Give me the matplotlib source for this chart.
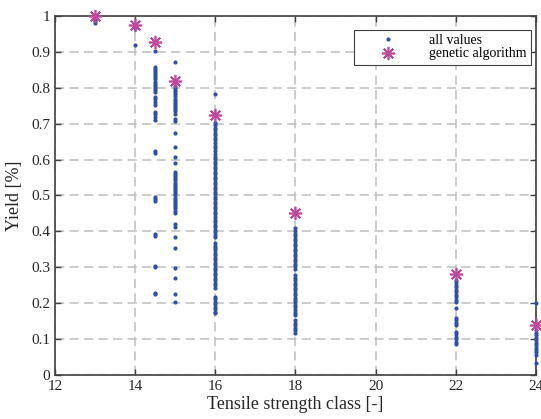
import matplotlib
matplotlib.use("Agg")
import matplotlib.pyplot as plt

# ---- data ----
x13 = [0.995, 0.99, 0.985, 0.98]
x14 = [0.97, 0.965, 0.919]
x14_5 = [0.903, 0.859, 0.853, 0.847, 0.841, 0.835, 0.829, 0.823, 0.817, 0.811,
         0.805, 0.799, 0.793, 0.789, 0.775, 0.768, 0.761, 0.752, 0.733, 0.726,
         0.718, 0.71, 0.624, 0.619, 0.496, 0.49, 0.484, 0.392, 0.388, 0.304,
         0.3, 0.229, 0.226]
x15 = [0.873, 0.806, 0.8, 0.794, 0.788, 0.782, 0.776, 0.77, 0.764, 0.758,
       0.752, 0.746, 0.74, 0.734, 0.728, 0.712, 0.706, 0.674, 0.636, 0.608,
       0.591, 0.566, 0.56, 0.554, 0.548, 0.542, 0.536, 0.53, 0.524, 0.518,
       0.512, 0.506, 0.5, 0.494, 0.488, 0.482, 0.476, 0.47, 0.464, 0.458,
       0.452, 0.42, 0.413, 0.385, 0.355, 0.297, 0.271, 0.225, 0.202]
x16 = [0.783, 0.703, 0.696, 0.689, 0.682, 0.675, 0.668, 0.661, 0.655, 0.645,
       0.638, 0.631, 0.625, 0.615, 0.608, 0.601, 0.594, 0.587, 0.580, 0.573,
       0.566, 0.559, 0.552, 0.545, 0.538, 0.531, 0.524, 0.517, 0.510, 0.503,
       0.496, 0.489, 0.482, 0.475, 0.468, 0.461, 0.454, 0.447, 0.440, 0.433,
       0.426, 0.419, 0.412, 0.405, 0.398, 0.391, 0.384, 0.367, 0.360, 0.355,
       0.348, 0.341, 0.334, 0.327, 0.320, 0.313, 0.306, 0.299, 0.292, 0.285,
       0.278, 0.271, 0.264, 0.257, 0.250, 0.243, 0.218, 0.211, 0.204, 0.197,
       0.190, 0.183, 0.176, 0.172]
x18 = [0.408, 0.401, 0.394, 0.387, 0.380, 0.373, 0.366, 0.359, 0.352, 0.345,
       0.338, 0.331, 0.324, 0.317, 0.310, 0.303, 0.296, 0.278, 0.271, 0.264,
       0.257, 0.250, 0.243, 0.236, 0.229, 0.222, 0.215, 0.209, 0.202, 0.195,
       0.188, 0.181, 0.174, 0.167, 0.153, 0.146, 0.139, 0.132, 0.125, 0.118]
x22 = [0.265, 0.258, 0.251, 0.244, 0.237, 0.230, 0.223, 0.216, 0.209, 0.204,
       0.186, 0.159, 0.152, 0.145, 0.139, 0.121, 0.114, 0.107, 0.100, 0.093,
       0.086]
x24 = [0.200, 0.125, 0.118, 0.111, 0.104, 0.097, 0.090, 0.083, 0.076, 0.069,
       0.065, 0.056, 0.033]

all_values = {13: x13, 14: x14, 14.5: x14_5, 15: x15, 16: x16, 18: x18,
              22: x22, 24: x24}

ga_classes = [13, 14, 14.5, 15, 16, 18, 22, 24]
ga_yield = [1.0, 0.975, 0.928, 0.818, 0.724, 0.452, 0.28, 0.138]

xticks = [12, 14, 16, 18, 20, 22, 24]
yticks = [0, 0.1, 0.2, 0.3, 0.4, 0.5, 0.6, 0.7, 0.8, 0.9, 1]
ytick_labels = ['0', '0.1', '0.2', '0.3', '0.4', '0.5', '0.6', '0.7', '0.8', '0.9', '1']

# ---- plot ----
plt.rcParams['font.family'] = ['Liberation Serif', 'DejaVu Serif']
fig = plt.figure(figsize=(5.41, 4.19), dpi=100)
ax = fig.add_axes([0.1017, 0.105, 0.889, 0.857])

xs, ys = [], []
for k, v in all_values.items():
    xs += [k] * len(v)
    ys += v
dot_col = '#3050a5'
star_col = '#c0479c'
ax.plot(xs, ys, linestyle='none', marker='.', markersize=4, color=dot_col,
        clip_on=False, zorder=3, label='all values')
ax.plot(ga_classes, ga_yield, linestyle='none', marker=(8, 2, 0), markersize=9.5,
        markeredgewidth=1.2, color=star_col, markeredgecolor=star_col,
        clip_on=False, zorder=4, label='genetic algorithm')

ax.set_xlim(12, 24)
ax.set_ylim(0, 1)
ax.set_xticks(xticks)
ax.set_xticklabels([str(t) for t in xticks])
ax.set_yticks(yticks)
ax.set_yticklabels(ytick_labels)

axcol = '#404040'
for s in ax.spines.values():
    s.set_color(axcol)
    s.set_linewidth(1.2)
ax.tick_params(direction='in', length=4, width=1.0, colors=axcol,
               top=True, right=True, labelsize=11, labelcolor='#262626')
ax.grid(True, color='#bdbdbd', linestyle=(0, (6, 3.5)), linewidth=1.1)
ax.set_axisbelow(True)

ax.set_xlabel('Tensile strength class [-]', fontsize=13, color='#262626', labelpad=2)
ax.set_ylabel('Yield [%]', fontsize=13, color='#262626', labelpad=6)

leg = ax.legend(loc='upper right', bbox_to_anchor=(0.99, 0.962), fontsize=10,
                fancybox=False, framealpha=1, edgecolor='#404040',
                borderpad=0.3, handletextpad=0.9, labelspacing=0.05,
                handlelength=4.2, borderaxespad=0, markerscale=1.0)
leg.get_frame().set_linewidth(0.8)

fig.savefig('out.png', dpi=100)
